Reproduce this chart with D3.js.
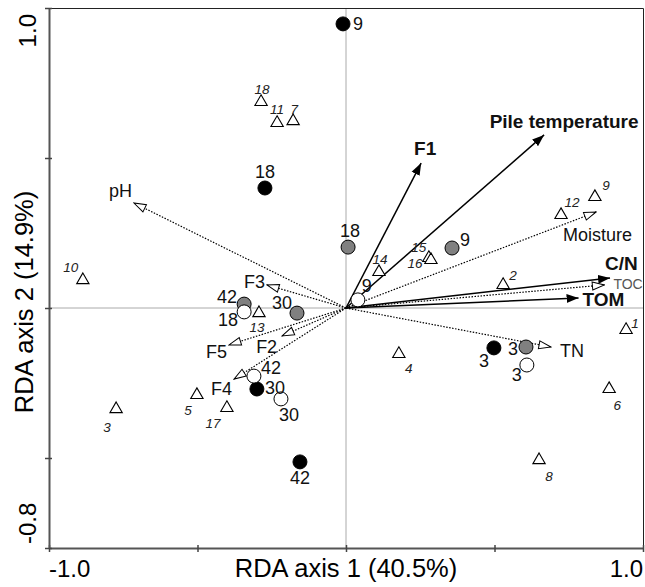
<!DOCTYPE html>
<html>
<head>
<meta charset="utf-8">
<script src="https://cdn.jsdelivr.net/npm/d3@7"></script>
<style>
    body { margin: 0; background: #fff; }
    svg { display: block; font-family: "Liberation Sans", Arial, sans-serif; }
</style>
</head>
<body>
<div id="chart"></div>
<script>
// RDA biplot data (axis units)
const envNames   = ['F1', 'Pile temperature', 'C/N', 'TOM', 'pH', 'Moisture', 'TOC', 'TN', 'F3', 'F2', 'F5', 'F4'];
const envX       = [0.253, 0.667, 0.889, 0.783, -0.714, 0.842, 0.870, 0.690, -0.266, -0.215, -0.394, -0.377];
const envY       = [0.483, 0.577, 0.100, 0.033, 0.350, 0.320, 0.077, -0.130, 0.077, -0.093, -0.123, -0.237];
const envSolid   = [true, true, true, true, false, false, false, false, false, false, false, false];

const speciesNames = ['18', '11', '7', '10', '3', '5', '17', '13', '14', '15', '16', '12', '9', '2', '1', '4', '6', '8'];
const speciesX     = [-0.286, -0.232, -0.178, -0.886, -0.774, -0.502, -0.401, -0.293, 0.111, 0.279, 0.286, 0.724, 0.838, 0.529, 0.943, 0.178, 0.886, 0.650];
const speciesY     = [0.687, 0.617, 0.623, 0.093, -0.337, -0.290, -0.333, -0.017, 0.120, 0.167, 0.160, 0.310, 0.370, 0.077, -0.073, -0.153, -0.270, -0.507];

const sampleDays  = ['9', '18', '3', '30', '42', '18', '9', '42', '30', '3', '9', '18', '42', '30', '3'];
const sampleGroup = ['black', 'black', 'black', 'black', 'black', 'gray', 'gray', 'gray', 'gray', 'gray', 'white', 'white', 'white', 'white', 'white'];
const sampleX     = [-0.010, -0.273, 0.498, -0.300, -0.155, 0.007, 0.357, -0.343, -0.165, 0.606, 0.040, -0.343, -0.310, -0.219, 0.609];
const sampleY     = [0.947, 0.400, -0.133, -0.270, -0.513, 0.203, 0.200, 0.013, -0.017, -0.130, 0.027, -0.013, -0.227, -0.303, -0.190];

const xTickValues = [-1, -0.5, 0, 0.5, 1];
const yTickValues = [-0.8, -0.5, 0, 0.5, 1];
const xTickLabels = ['-1.0', '1.0'];
const yTickLabels = ['-0.8', '1.0'];

// label placement (pixels, relative to the mark)
const envLabelPos = [
    { dx: 4, dy: -8, anchor: 'middle' },
    { dx: 20, dy: -7, anchor: 'middle' },
    { dx: -5, dy: -8, anchor: 'start' },
    { dx: 4, dy: 8, anchor: 'start' },
    { dx: -25, dy: -6, anchor: 'start' },
    { dx: -33, dy: 29, anchor: 'start' },
    { dx: 9, dy: 4, anchor: 'start' },
    { dx: 9, dy: 10, anchor: 'start' },
    { dx: -2, dy: 3, anchor: 'end' },
    { dx: -5, dy: 17, anchor: 'end' },
    { dx: -2, dy: 13, anchor: 'end' },
    { dx: -2, dy: 16, anchor: 'end' }
];
const speciesLabelPos = [
    [1, -13], [0, -14], [1, -12], [-12, -13], [-9, 18], [-9, 15], [-14, 15], [-2, 14],
    [1, -13], [-10, -11], [-16, 3], [11, -13], [11, -12], [10, -10], [9, -7], [10, 14], [8, 16], [10, 16]
];
const sampleLabelPos = [
    [15, 0], [0, -16], [-10, 13], [18, -1], [0, 16],
    [2, -17], [13, -8], [-17, -8], [-15, -11], [-13, 2],
    [9, -14], [-16, 8], [17, -9], [8, 16], [-10, 10]
];

const SAMPLE_FILL = { black: '#000', gray: '#808080', white: '#fff' };

function drawChart() {
    const W = 645, H = 587;
    const svg = d3.select('#chart').append('svg')
        .attr('width', W)
        .attr('height', H);

    const x = d3.scaleLinear().domain([-1, 1]).range([49, 643]);
    const y = d3.scaleLinear().domain([-0.8, 1]).range([548, 8]);

    const defs = svg.append('defs');
    defs.append('marker')
        .attr('id', 'headSolid')
        .attr('markerUnits', 'userSpaceOnUse')
        .attr('viewBox', '0 -5 13 10')
        .attr('refX', 12).attr('refY', 0)
        .attr('markerWidth', 13).attr('markerHeight', 10)
        .attr('orient', 'auto')
        .append('path')
        .attr('d', 'M0,-4.5L12,0L0,4.5Z')
        .attr('fill', '#000');
    defs.append('marker')
        .attr('id', 'headOpen')
        .attr('markerUnits', 'userSpaceOnUse')
        .attr('viewBox', '-1 -5 14 10')
        .attr('refX', 12).attr('refY', 0)
        .attr('markerWidth', 14).attr('markerHeight', 10)
        .attr('orient', 'auto')
        .append('path')
        .attr('d', 'M0,-4L12,0L0,4Z')
        .attr('fill', '#fff')
        .attr('stroke', '#000')
        .attr('stroke-width', 1);

    // zero lines
    svg.append('line')
        .attr('x1', x(0)).attr('x2', x(0))
        .attr('y1', y(1)).attr('y2', y(-0.8))
        .attr('stroke', '#aaa').attr('stroke-width', 1);
    svg.append('line')
        .attr('x1', x(-1)).attr('x2', x(1))
        .attr('y1', y(0)).attr('y2', y(0))
        .attr('stroke', '#aaa').attr('stroke-width', 1);

    // top and right frame
    svg.append('path')
        .attr('d', `M${x(-1)},${y(1) + 0.5}H${x(1) + 0.5}V${y(-0.8)}`)
        .attr('fill', 'none')
        .attr('stroke', '#222')
        .attr('stroke-width', 1);

    // axes
    const xAxis = svg.append('g')
        .attr('transform', `translate(0,${y(-0.8)})`)
        .call(d3.axisBottom(x).tickValues(xTickValues).tickSize(4).tickSizeOuter(0).tickFormat(''));
    xAxis.selectAll('.tick line').attr('y1', -3).attr('stroke', '#444').attr('stroke-width', 1.5);
    xAxis.select('.domain').attr('stroke', '#555').attr('stroke-width', 2);

    const yAxis = svg.append('g')
        .attr('transform', `translate(${x(-1)},0)`)
        .call(d3.axisLeft(y).tickValues(yTickValues).tickSize(4).tickSizeOuter(0).tickFormat(''));
    yAxis.selectAll('.tick line').attr('x1', 3).attr('stroke', '#444').attr('stroke-width', 1.5);
    yAxis.select('.domain').attr('stroke', '#555').attr('stroke-width', 2);

    // tick labels (only the end values are labelled)
    svg.append('text')
        .attr('x', x(-1)).attr('y', 577)
        .attr('text-anchor', 'start')
        .style('font-size', '24px')
        .text(xTickLabels[0]);
    svg.append('text')
        .attr('x', x(1)).attr('y', 577)
        .attr('text-anchor', 'end')
        .style('font-size', '24px')
        .text(xTickLabels[1]);
    svg.append('text')
        .attr('transform', `translate(36,${y(-0.8) - 4}) rotate(-90)`)
        .attr('text-anchor', 'start')
        .style('font-size', '24px')
        .text(yTickLabels[0]);
    svg.append('text')
        .attr('transform', `translate(36,${y(1) + 6}) rotate(-90)`)
        .attr('text-anchor', 'end')
        .style('font-size', '24px')
        .text(yTickLabels[1]);

    // axis titles
    svg.append('text')
        .attr('x', x(0)).attr('y', 577)
        .attr('text-anchor', 'middle')
        .style('font-size', '25.5px')
        .text('RDA axis 1 (40.5%)');
    svg.append('text')
        .attr('transform', 'translate(33,302) rotate(-90)')
        .attr('text-anchor', 'middle')
        .style('font-size', '25.5px')
        .text('RDA axis 2 (14.9%)');

    // environmental arrows
    const env = envNames.map((name, i) => ({ name, x: envX[i], y: envY[i], solid: envSolid[i], pos: envLabelPos[i] }));

    svg.append('g').selectAll('line')
        .data(env)
        .enter()
        .append('line')
        .attr('x1', x(0)).attr('y1', y(0))
        .attr('x2', d => x(d.x)).attr('y2', d => y(d.y))
        .attr('stroke', '#000')
        .attr('stroke-width', d => d.solid ? 1.5 : 1.2)
        .attr('stroke-dasharray', d => d.solid ? null : '1.5,1.5')
        .attr('marker-end', d => d.solid ? 'url(#headSolid)' : 'url(#headOpen)');

    // samples
    const samples = sampleDays.map((day, i) => ({ day, group: sampleGroup[i], x: sampleX[i], y: sampleY[i], pos: sampleLabelPos[i] }));

    svg.append('g').selectAll('circle')
        .data(samples)
        .enter()
        .append('circle')
        .attr('cx', d => x(d.x))
        .attr('cy', d => y(d.y))
        .attr('r', 7)
        .attr('fill', d => SAMPLE_FILL[d.group])
        .attr('stroke', '#000')
        .attr('stroke-width', 1);

    // species
    const species = speciesNames.map((name, i) => ({ name, x: speciesX[i], y: speciesY[i], pos: speciesLabelPos[i] }));
    const tri = d3.symbol().type(d3.symbolTriangle).size(66);

    svg.append('g').selectAll('path')
        .data(species)
        .enter()
        .append('path')
        .attr('d', tri)
        .attr('transform', d => `translate(${x(d.x)},${y(d.y)})`)
        .attr('fill', '#fff')
        .attr('stroke', '#000')
        .attr('stroke-width', 1.1);

    // labels
    svg.append('g').selectAll('text')
        .data(env)
        .enter()
        .append('text')
        .attr('x', d => x(d.x) + d.pos.dx)
        .attr('y', d => y(d.y) + d.pos.dy)
        .attr('text-anchor', d => d.pos.anchor)
        .style('font-size', d => d.name === 'TOC' ? '14px' : d.solid ? '19px' : '18px')
        .style('font-weight', d => d.solid ? 'bold' : 'normal')
        .style('fill', d => d.name === 'TOC' ? '#555' : '#111')
        .text(d => d.name);

    svg.append('g').selectAll('text')
        .data(samples)
        .enter()
        .append('text')
        .attr('x', d => x(d.x) + d.pos[0])
        .attr('y', d => y(d.y) + d.pos[1])
        .attr('dy', '0.36em')
        .attr('text-anchor', 'middle')
        .style('font-size', '18px')
        .style('fill', '#111')
        .text(d => d.day);

    svg.append('g').selectAll('text')
        .data(species)
        .enter()
        .append('text')
        .attr('x', d => x(d.x) + d.pos[0])
        .attr('y', d => y(d.y) + d.pos[1])
        .attr('dy', '0.36em')
        .attr('text-anchor', 'middle')
        .style('font-size', '13.5px')
        .style('font-style', 'italic')
        .style('fill', '#222')
        .text(d => d.name);
}

document.addEventListener('DOMContentLoaded', drawChart);
</script>
</body>
</html>
